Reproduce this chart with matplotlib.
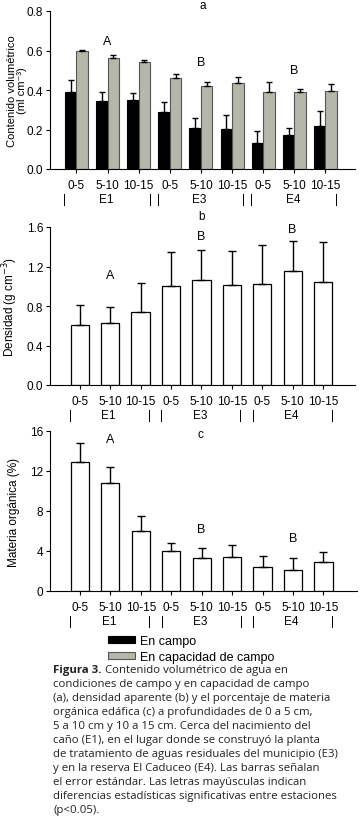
import matplotlib
matplotlib.use("Agg")
import matplotlib.pyplot as plt
import numpy as np

plt.rcParams["font.family"] = ["Liberation Sans", "DejaVu Sans"]

# datos
profundidad = ["0-5", "5-10", "10-15"] * 3
estaciones = ["E1", "E3", "E4"]

agua_campo = [0.39, 0.345, 0.35, 0.29, 0.21, 0.205, 0.13, 0.17, 0.22]
agua_campo_err = [0.06, 0.045, 0.035, 0.05, 0.05, 0.07, 0.06, 0.04, 0.075]
agua_capacidad = [0.60, 0.56, 0.54, 0.46, 0.42, 0.435, 0.39, 0.39, 0.395]
agua_capacidad_err = [0.003, 0.018, 0.01, 0.02, 0.02, 0.03, 0.05, 0.015, 0.035]

densidad = [0.61, 0.63, 0.74, 1.00, 1.06, 1.01, 1.02, 1.15, 1.04]
densidad_err = [0.20, 0.16, 0.29, 0.35, 0.31, 0.35, 0.40, 0.31, 0.41]

materia = [12.9, 10.8, 6.0, 4.0, 3.3, 3.4, 2.4, 2.1, 2.9]
materia_err = [1.9, 1.6, 1.5, 0.8, 1.0, 1.2, 1.1, 1.2, 1.0]

letras_a = [("A", 1, 0.65), ("B", 4, 0.54), ("B", 7, 0.50)]
letras_b = [("A", 1, 1.11), ("B", 4, 1.51), ("B", 7, 1.58)]
letras_c = [("A", 1, 15.2), ("B", 4, 6.2), ("B", 7, 5.3)]

caption_lines = [
    "condiciones de campo y en capacidad de campo",
    "(a), densidad aparente (b) y el porcentaje de materia",
    "orgánica edáfica (c) a profundidades de 0 a 5 cm,",
    "5 a 10 cm y 10 a 15 cm. Cerca del nacimiento del",
    "caño (E1), en el lugar donde se construyó la planta",
    "de tratamiento de aguas residuales del municipio (E3)",
    "y en la reserva El Caduceo (E4). Las barras señalan",
    "el error estándar. Las letras mayúsculas indican",
    "diferencias estadísticas significativas entre estaciones",
    "(p<0.05).",
]

gris = "#b5b7ab"
fs = 8.5
x = np.arange(len(profundidad))

fig = plt.figure(figsize=(3.63, 8.37), dpi=100)
W, H = 363, 837


def ejes(left, top, right, bottom):
    return fig.add_axes([left / W, 1 - bottom / H, (right - left) / W, (bottom - top) / H])


def estilo(ax, sep):
    ax.spines["top"].set_visible(False)
    ax.spines["right"].set_visible(False)
    ax.tick_params(direction="out", length=3, width=0.8, labelsize=fs, pad=2)
    ax.set_xticks(x)
    ax.set_xticklabels(profundidad)
    ax.tick_params(axis="x", pad=4)
    for i, est in enumerate(estaciones):
        c = i * 3 + 1
        ax.annotate(est, xy=(c - 0.05, 0), xycoords=ax.get_xaxis_transform(),
                    xytext=(0, -21.5), textcoords="offset points",
                    ha="center", va="center", fontsize=fs)
        for xs in (c - 1 - sep, c + 1 + sep):
            ax.annotate("|", xy=(xs, 0), xycoords=ax.get_xaxis_transform(),
                        xytext=(0, -21.5), textcoords="offset points",
                        ha="center", va="center", fontsize=fs)


# a) contenido volumetrico
ax1 = ejes(50, 12, 355, 170)
w = 0.37
ax1.bar(x - w / 2, agua_campo, w, color="black", edgecolor="black", lw=0.8,
        yerr=[np.zeros(9), agua_campo_err], capsize=2.5,
        error_kw=dict(lw=1, capthick=1), label="En campo")
ax1.bar(x + w / 2, agua_capacidad, w, color=gris, edgecolor="#555555", lw=0.8,
        yerr=[np.zeros(9), agua_capacidad_err], capsize=2.5,
        error_kw=dict(lw=1, capthick=1), label="En capacidad de campo")
ax1.set_ylim(0, 0.8)
ax1.set_yticks([0.0, 0.2, 0.4, 0.6, 0.8])
ax1.set_xlim(-0.85, 8.95)
estilo(ax1, 0.37)
ax1.set_ylabel("Contenido volumétrico\n(ml cm⁻³)", fontsize=8, linespacing=1.0,
               family=["Liberation Sans", "DejaVu Sans"])
ax1.yaxis.set_label_coords(-0.076, 0.5)
ax1.text(4.07, 0.83, "a", ha="center", va="center", fontsize=fs, clip_on=False)
for t, xi, yi in letras_a:
    ax1.text(xi, yi, t, ha="center", va="center", fontsize=fs + 0.5)

# b) densidad aparente
ax2 = ejes(50, 228, 355, 386)
wb = 0.6
ax2.bar(x, densidad, wb, color="white", edgecolor="black", lw=0.9,
        yerr=[np.zeros(9), densidad_err], capsize=3,
        error_kw=dict(lw=1, capthick=1))
ax2.set_ylim(0, 1.6)
ax2.set_yticks([0.0, 0.4, 0.8, 1.2, 1.6])
ax2.set_xlim(-0.98, 9.05)
estilo(ax2, 0.3)
ax2.set_ylabel("Densidad (g cm$^{-3}$)", fontsize=fs)
ax2.yaxis.set_label_coords(-0.097, 0.5)
ax2.text(4.0, 1.71, "b", ha="center", va="center", fontsize=fs, clip_on=False)
for t, xi, yi in letras_b:
    ax2.text(xi, yi, t, ha="center", va="center", fontsize=fs + 0.5)

# c) materia organica
ax3 = ejes(50, 432, 357, 592)
ax3.bar(x, materia, wb, color="white", edgecolor="black", lw=0.9,
        yerr=[np.zeros(9), materia_err], capsize=3,
        error_kw=dict(lw=1, capthick=1))
ax3.set_ylim(0, 16)
ax3.set_yticks([0, 4, 8, 12, 16])
ax3.set_xlim(-0.98, 9.1)
estilo(ax3, 0.3)
ax3.set_ylabel("Materia orgánica (%)", fontsize=fs)
ax3.yaxis.set_label_coords(-0.097, 0.5)
ax3.text(3.95, 15.7, "c", ha="center", va="center", fontsize=fs, clip_on=False)
for t, xi, yi in letras_c:
    ax3.text(xi, yi, t, ha="center", va="center", fontsize=fs + 0.5)

# leyenda
h, l = ax1.get_legend_handles_labels()
fig.legend(h, l, loc="upper left", bbox_to_anchor=(102 / W, 1 - 630 / H),
           frameon=False, fontsize=fs + 0.5, handlelength=2.1, handleheight=0.45,
           handletextpad=0.4, labelspacing=0.3, borderpad=0)

# pie de figura
cap_fs = 8.2
t0 = fig.text(53 / W, 1 - 671 / H, "Figura 3.", fontsize=cap_fs, fontweight="bold",
              family="Open Sans", color="#222222", va="center")
fig.canvas.draw()
x_sig = t0.get_window_extent().x1 + 3
fig.text(x_sig / W, 1 - 671 / H, "Contenido volumétrico de agua en", fontsize=cap_fs,
         family="Open Sans", color="#222222", va="center")
for i, linea in enumerate(caption_lines):
    fig.text(53 / W, 1 - (685 + i * 14.0) / H, linea, fontsize=cap_fs,
             family="Open Sans", color="#222222", va="center")

fig.savefig("out.png", dpi=100)
